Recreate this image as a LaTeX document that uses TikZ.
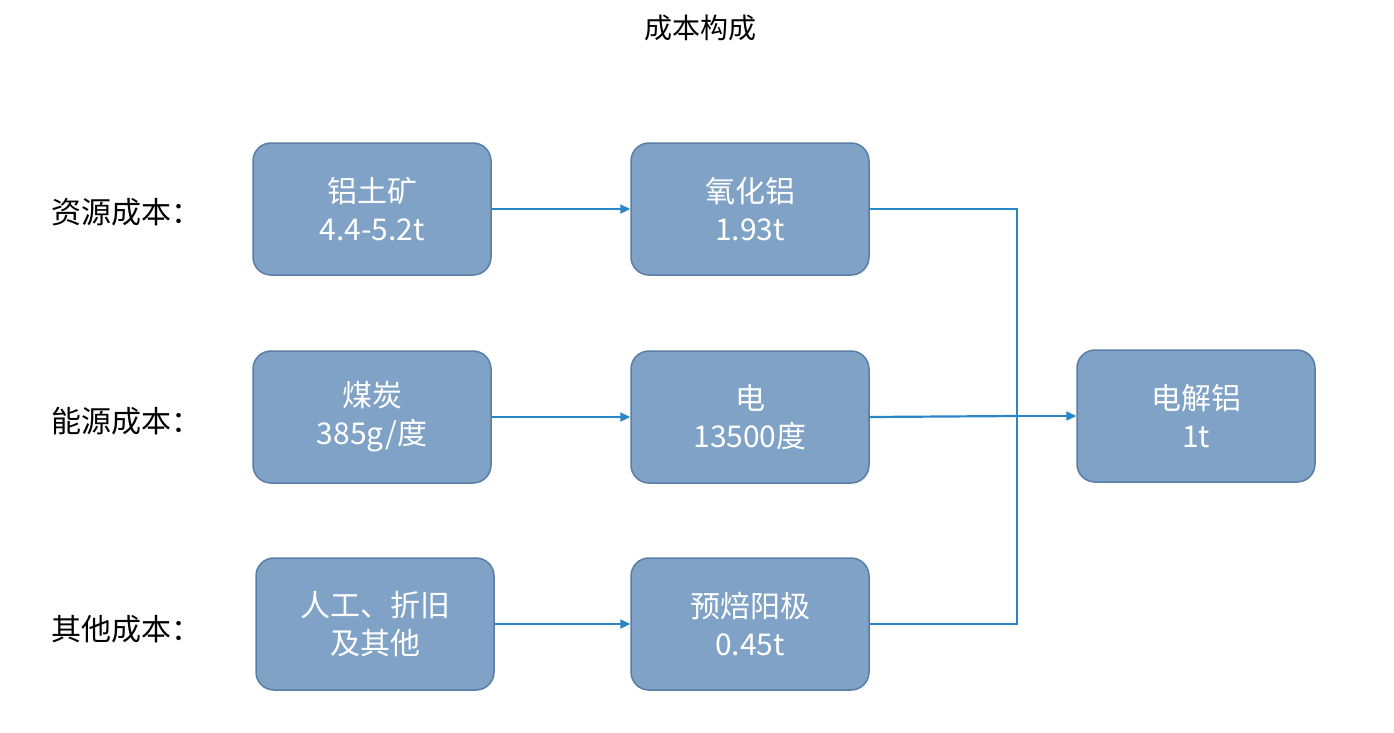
\documentclass[tikz,border=0pt]{standalone}
\usepackage{fontspec}
\setmainfont{Noto Sans CJK SC}
\usetikzlibrary{arrows.meta}
\definecolor{boxfill}{HTML}{7FA2C6}
\definecolor{boxline}{HTML}{5A7DA6}
\definecolor{conn}{HTML}{2A86C6}
\begin{document}
\begin{tikzpicture}[x=1pt,y=-1pt,
 box/.style={draw=boxline,line width=1.5pt,fill=boxfill,rounded corners=18pt,minimum width=238pt,minimum height=132pt,text=white,align=center,font=\fontsize{30}{38}\selectfont,inner sep=0pt},
 lab/.style={font=\fontsize{30}{36}\selectfont,anchor=west},
 con/.style={draw=conn,line width=2.2pt},
 arr/.style={con,-{Triangle[length=10pt,width=9pt]}}]
\useasboundingbox (0,0) rectangle (1394,732);
\node[font=\fontsize{28}{34}\selectfont] (title) at (700,28) {成本构成};
\node[lab] (l1) at (48,212) {资源成本：};
\node[lab] (l2) at (48,421) {能源成本：};
\node[lab] (l3) at (48,629) {其他成本：};
\node[box] (a1) at (372,209) {铝土矿\\4.4-5.2t};
\node[box] (a2) at (372,417) {煤炭\\385g/度};
\node[box] (a3) at (375,624) {人工、折旧\\及其他};
\node[box] (b1) at (750,209) {氧化铝\\1.93t};
\node[box] (b2) at (750,417) {电\\13500度};
\node[box] (b3) at (750,624) {预焙阳极\\0.45t};
\node[box] (c) at (1196,416) {电解铝\\1t};
\draw[arr] (a1) -- (b1);
\draw[arr] (a2) -- (b2);
\draw[arr] (a3) -- (b3);
\coordinate (j1) at (1017,209);
\coordinate (j3) at (1017,624);
\coordinate (j2) at (1017,416);
\draw[con] (b1.east) -- (j1) -- (j3) -- (b3.east);
\draw[con] (b2.east) -- (j2);
\draw[arr] (j2) -- (c.west);
\end{tikzpicture}
\end{document}
